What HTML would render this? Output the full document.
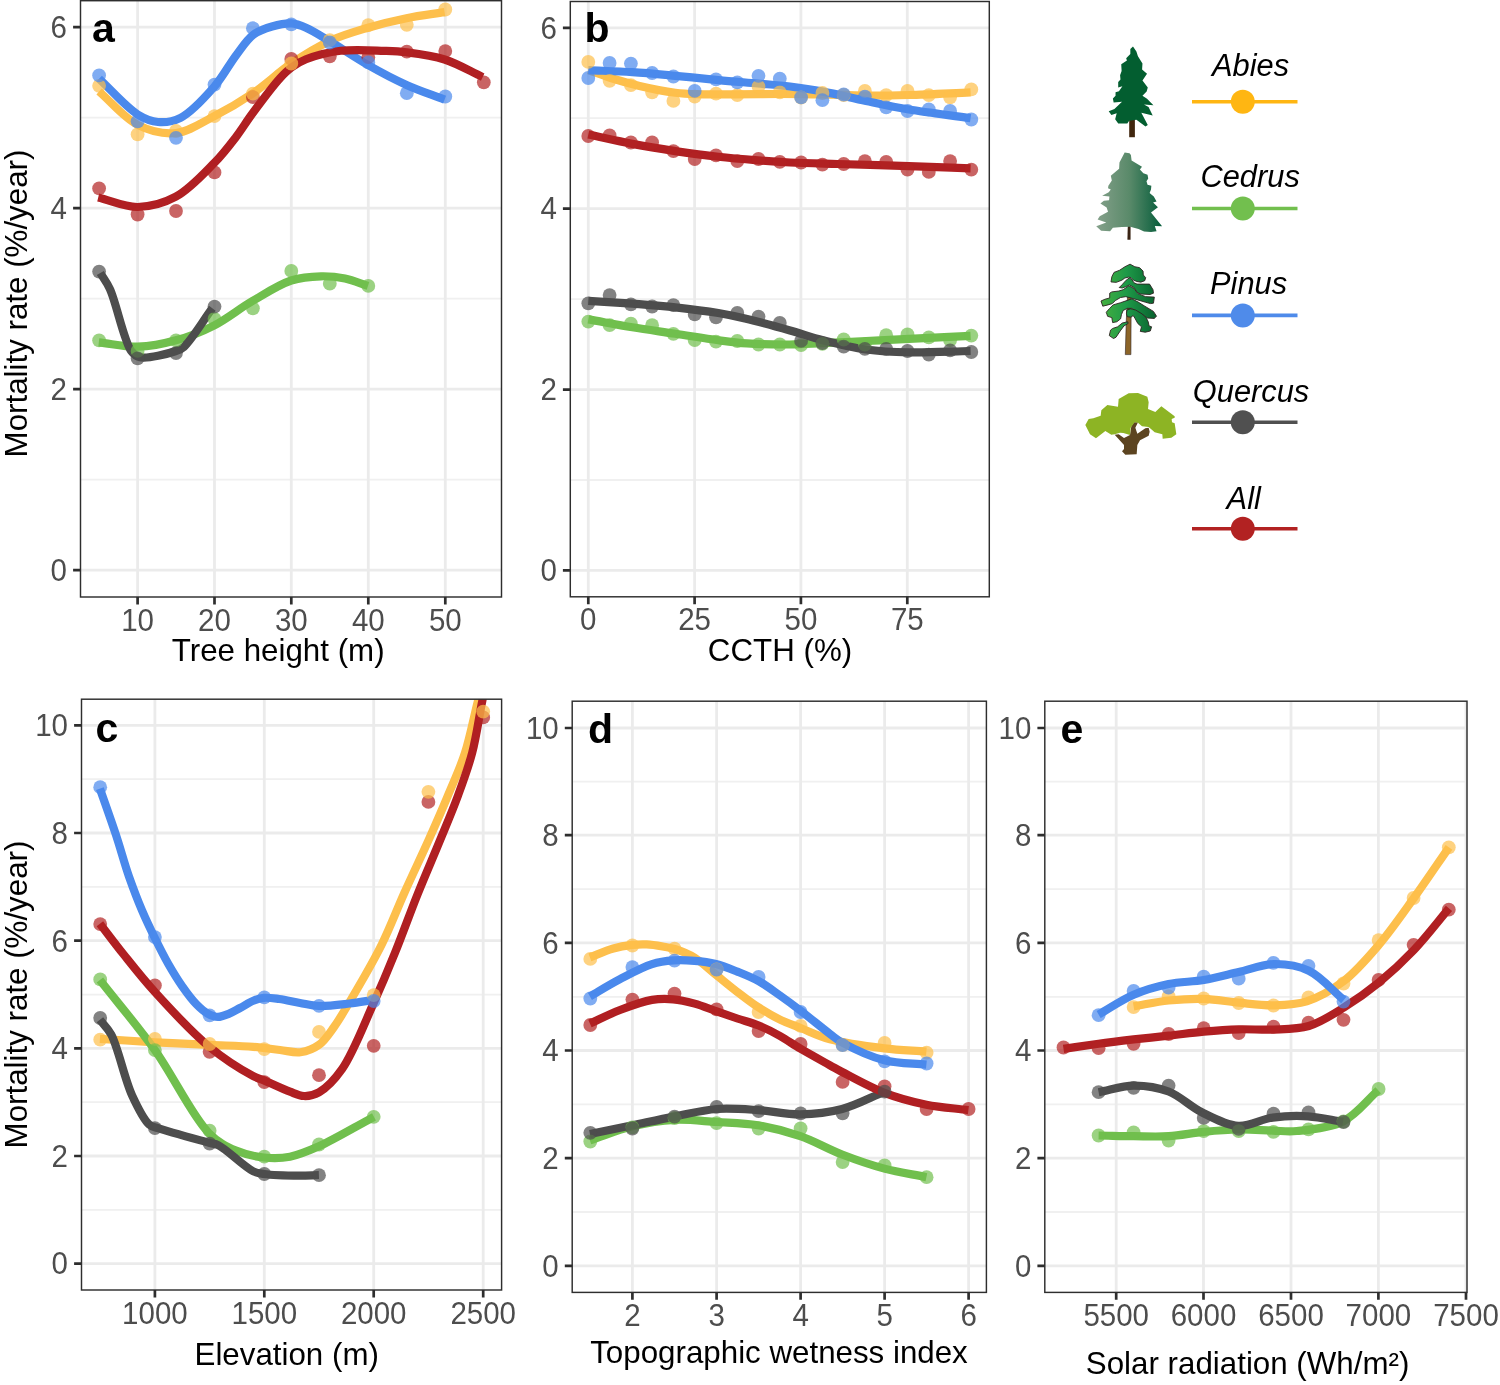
<!DOCTYPE html>
<html><head><meta charset="utf-8"><title>Mortality rate plots</title>
<style>
html,body{margin:0;padding:0;background:#fff;width:1500px;height:1385px;overflow:hidden}
svg{display:block}
text{font-family:"Liberation Sans", sans-serif}
svg{will-change:transform}
.tk{font-size:29.5px;fill:#4D4D4D}
.ti{font-size:31.3px;fill:#000}
.lb{font-size:41.0px;font-weight:bold;fill:#000}
.lg{font-size:30.8px;font-style:italic;fill:#000}
</style></head><body>
<svg width="1500" height="1385" viewBox="0 0 1500 1385">
<rect x="0" y="0" width="1500" height="1385" fill="#FFFFFF"/>
<clipPath id="clip_a"><rect x="80.5" y="0.7" width="421.0" height="596.3"/></clipPath>
<path d="M80.5,479.7H501.5M80.5,298.7H501.5M80.5,117.7H501.5" stroke="#F0F0F0" stroke-width="1.8" fill="none"/>
<path d="M80.5,570.2H501.5M80.5,389.2H501.5M80.5,208.2H501.5M80.5,27.2H501.5M137.6,0.7V597.0M214.5,0.7V597.0M291.3,0.7V597.0M368.3,0.7V597.0M445.3,0.7V597.0" stroke="#EBEBEB" stroke-width="2.8" fill="none"/>
<g clip-path="url(#clip_a)">
<path d="M99.1,91.5 C111.9,102.6 123.9,118.0 137.6,124.8 C149.6,130.8 163.2,134.3 175.8,133.0 C188.8,131.7 201.7,122.6 214.3,116.1 C227.2,109.5 239.9,102.1 252.4,93.6 C265.6,84.7 278.1,72.5 291.4,63.5 C304.1,54.9 317.1,46.8 330.3,40.7 C342.7,35.0 355.3,31.5 368.0,27.7 C380.7,24.0 393.6,20.8 406.5,18.2 C419.2,15.6 431.9,14.1 444.6,12.1" stroke="#FDBF4C" stroke-width="8.2" fill="none" stroke-linejoin="round"/>
<path d="M98.8,342.4 C111.7,343.8 124.7,347.1 137.6,346.7 C150.5,346.3 163.4,343.8 176.0,340.3 C189.0,336.7 201.9,331.7 214.4,325.3 C227.5,318.6 239.8,308.3 252.8,300.8 C265.5,293.4 278.9,284.5 291.2,280.5 C301.5,277.2 311.6,276.5 321.0,276.3 C329.4,276.1 337.2,276.9 345.0,278.5 C352.8,280.1 360.3,283.4 368.0,285.9" stroke="#70BF4D" stroke-width="8.2" fill="none" stroke-linejoin="round"/>
<path d="M99.1,78.8 C111.9,90.7 126.2,107.4 137.6,114.4 C145.0,118.9 150.9,121.4 158.0,122.0 C165.2,122.6 172.8,121.7 180.5,117.8 C191.4,112.3 204.8,97.5 214.3,86.6 C223.0,76.7 229.0,64.6 236.0,55.4 C241.9,47.6 246.8,39.6 253.3,34.7 C259.0,30.4 265.6,28.4 272.0,26.5 C278.3,24.7 285.4,23.0 291.4,23.4 C296.7,23.7 300.7,25.4 306.0,27.7 C313.2,30.8 321.4,36.3 330.3,41.6 C341.5,48.3 355.2,57.7 368.0,65.0 C380.6,72.2 393.5,79.1 406.5,84.9 C419.1,90.6 431.9,94.7 444.6,99.6" stroke="#4A89EC" stroke-width="8.2" fill="none" stroke-linejoin="round"/>
<path d="M100.3,273.0 C103.5,278.3 106.5,281.7 109.9,289.0 C116.3,302.7 124.0,341.4 131.2,351.0 C134.1,354.9 135.8,356.3 140.0,357.3 C147.7,359.1 168.4,353.6 176.0,351.0 C179.8,349.7 180.9,349.5 184.0,346.8 C191.1,340.7 202.9,321.1 212.3,308.3" stroke="#4D4D4D" stroke-width="8.2" fill="none" stroke-linejoin="round"/>
<path d="M98.2,197.5 C111.4,200.7 124.7,207.2 137.7,207.0 C150.5,206.8 163.8,203.2 175.8,196.7 C189.5,189.4 203.6,173.8 214.3,162.9 C223.0,154.0 229.4,145.5 236.0,136.9 C242.0,129.0 246.1,122.0 252.4,113.5 C260.3,102.8 272.5,86.4 280.0,78.2 C284.4,73.4 287.2,70.6 291.4,67.5 C295.8,64.3 299.9,61.7 306.0,59.3 C314.9,55.8 328.3,52.3 340.6,50.8 C354.2,49.2 371.9,50.4 384.0,50.8 C392.7,51.1 398.1,51.2 406.5,52.3 C417.6,53.7 432.1,55.5 444.6,59.5 C457.6,63.6 470.0,71.2 482.7,77.1" stroke="#B01F22" stroke-width="8.2" fill="none" stroke-linejoin="round"/>
<g fill="#B22222" fill-opacity="0.70"><circle cx="99.1" cy="188.4" r="6.9"/><circle cx="137.6" cy="214.5" r="6.9"/><circle cx="176.0" cy="211.0" r="6.9"/><circle cx="214.5" cy="172.4" r="6.9"/><circle cx="252.9" cy="97.0" r="6.9"/><circle cx="291.3" cy="58.9" r="6.9"/><circle cx="329.8" cy="56.3" r="6.9"/><circle cx="368.3" cy="57.2" r="6.9"/><circle cx="406.8" cy="51.6" r="6.9"/><circle cx="445.3" cy="51.1" r="6.9"/><circle cx="483.8" cy="82.3" r="6.9"/></g>
<g fill="#FDBF4A" fill-opacity="0.70"><circle cx="99.1" cy="85.8" r="6.9"/><circle cx="137.6" cy="134.3" r="6.9"/><circle cx="176.0" cy="131.0" r="6.9"/><circle cx="214.5" cy="116.1" r="6.9"/><circle cx="252.9" cy="93.6" r="6.9"/><circle cx="291.3" cy="63.5" r="6.9"/><circle cx="329.8" cy="40.2" r="6.9"/><circle cx="368.3" cy="25.1" r="6.9"/><circle cx="406.8" cy="24.8" r="6.9"/><circle cx="445.3" cy="9.5" r="6.9"/></g>
<g fill="#70BF4D" fill-opacity="0.70"><circle cx="99.1" cy="340.3" r="6.9"/><circle cx="137.6" cy="350.9" r="6.9"/><circle cx="176.0" cy="340.3" r="6.9"/><circle cx="214.5" cy="319.0" r="6.9"/><circle cx="252.9" cy="308.3" r="6.9"/><circle cx="291.3" cy="270.9" r="6.9"/><circle cx="329.8" cy="283.7" r="6.9"/><circle cx="368.3" cy="285.9" r="6.9"/></g>
<g fill="#4A89EC" fill-opacity="0.70"><circle cx="99.1" cy="75.4" r="6.9"/><circle cx="137.6" cy="121.3" r="6.9"/><circle cx="176.0" cy="137.8" r="6.9"/><circle cx="214.5" cy="84.6" r="6.9"/><circle cx="252.9" cy="28.2" r="6.9"/><circle cx="291.3" cy="24.3" r="6.9"/><circle cx="329.8" cy="42.5" r="6.9"/><circle cx="368.3" cy="62.4" r="6.9"/><circle cx="406.8" cy="93.2" r="6.9"/><circle cx="445.3" cy="96.5" r="6.9"/></g>
<g fill="#4D4D4D" fill-opacity="0.70"><circle cx="99.1" cy="271.6" r="6.9"/><circle cx="137.6" cy="358.4" r="6.9"/><circle cx="176.0" cy="353.1" r="6.9"/><circle cx="214.5" cy="306.6" r="6.9"/></g>
</g>
<rect x="80.5" y="0.7" width="421.0" height="596.3" fill="none" stroke="#2E2E2E" stroke-width="1.45"/>
<path d="M137.6,597.0V604.4M214.5,597.0V604.4M291.3,597.0V604.4M368.3,597.0V604.4M445.3,597.0V604.4M73.1,570.2H80.5M73.1,389.2H80.5M73.1,208.2H80.5M73.1,27.2H80.5" stroke="#2E2E2E" stroke-width="2.7" fill="none"/>
<text transform="translate(137.6,630.6) scale(1,1.06)" text-anchor="middle" class="tk">10</text>
<text transform="translate(214.5,630.6) scale(1,1.06)" text-anchor="middle" class="tk">20</text>
<text transform="translate(291.3,630.6) scale(1,1.06)" text-anchor="middle" class="tk">30</text>
<text transform="translate(368.3,630.6) scale(1,1.06)" text-anchor="middle" class="tk">40</text>
<text transform="translate(445.3,630.6) scale(1,1.06)" text-anchor="middle" class="tk">50</text>
<text transform="translate(67.0,581.0) scale(1,1.06)" text-anchor="end" class="tk">0</text>
<text transform="translate(67.0,400.0) scale(1,1.06)" text-anchor="end" class="tk">2</text>
<text transform="translate(67.0,219.0) scale(1,1.06)" text-anchor="end" class="tk">4</text>
<text transform="translate(67.0,38.0) scale(1,1.06)" text-anchor="end" class="tk">6</text>
<text x="278.2" y="661.0" text-anchor="middle" class="ti">Tree height (m)</text>
<text x="92.1" y="41.6" class="lb">a</text>
<clipPath id="clip_b"><rect x="570.3" y="1.5" width="419.0" height="595.3"/></clipPath>
<path d="M570.3,480.0H989.3M570.3,299.2H989.3M570.3,118.2H989.3" stroke="#F0F0F0" stroke-width="1.8" fill="none"/>
<path d="M570.3,570.4H989.3M570.3,389.6H989.3M570.3,208.6H989.3M570.3,27.8H989.3M588.3,1.5V596.8M694.6,1.5V596.8M800.9,1.5V596.8M907.3,1.5V596.8" stroke="#EBEBEB" stroke-width="2.8" fill="none"/>
<g clip-path="url(#clip_b)">
<path d="M588.3,70.1 C595.8,72.7 602.8,75.5 610.8,78.0 C619.7,80.8 629.4,83.5 639.5,85.9 C650.7,88.5 664.8,91.3 675.3,92.7 C683.3,93.7 688.7,93.9 696.8,94.2 C707.2,94.6 719.9,94.3 732.7,94.3 C747.4,94.3 764.6,94.0 780.0,94.0 C794.7,94.0 808.7,94.3 823.0,94.5 C837.3,94.8 851.7,95.4 866.0,95.5 C880.3,95.6 893.4,95.4 909.0,95.0 C927.7,94.5 950.1,93.2 970.6,92.3" stroke="#FDBF4C" stroke-width="8.2" fill="none" stroke-linejoin="round"/>
<path d="M588.3,319.4 C603.0,322.0 617.7,324.9 632.3,327.3 C646.7,329.7 661.0,331.6 675.3,333.8 C689.6,335.9 705.4,338.5 718.3,340.2 C728.8,341.6 736.5,342.7 747.0,343.4 C759.9,344.3 776.6,344.6 790.0,344.5 C801.7,344.4 811.3,343.6 823.0,343.1 C836.4,342.5 851.7,341.7 866.0,341.0 C880.3,340.3 893.4,339.6 909.0,338.8 C927.7,337.9 950.1,336.9 970.6,335.9" stroke="#70BF4D" stroke-width="8.2" fill="none" stroke-linejoin="round"/>
<path d="M588.3,70.1 C603.0,70.8 617.7,71.2 632.3,72.2 C646.7,73.1 661.0,74.5 675.3,75.8 C689.6,77.1 704.2,78.8 718.3,80.1 C731.8,81.4 745.5,82.4 758.0,83.5 C769.2,84.5 779.3,85.2 790.0,86.5 C800.9,87.9 811.3,89.4 823.0,91.6 C836.4,94.1 851.7,98.0 866.0,101.0 C880.3,104.0 893.3,106.9 909.0,109.5 C927.7,112.6 950.1,115.2 970.6,118.1" stroke="#4A89EC" stroke-width="8.2" fill="none" stroke-linejoin="round"/>
<path d="M588.3,300.8 C603.0,301.8 617.7,302.6 632.3,303.7 C646.7,304.8 661.0,305.8 675.3,307.3 C689.7,308.9 705.7,310.9 718.3,313.0 C728.3,314.7 735.0,316.1 745.0,318.5 C758.1,321.6 776.2,326.6 790.0,330.5 C801.9,333.8 811.2,337.2 823.0,340.2 C836.3,343.6 851.6,347.5 866.0,349.5 C880.3,351.5 893.4,352.1 909.0,352.4 C927.7,352.8 950.1,351.5 970.6,351.0" stroke="#4D4D4D" stroke-width="8.2" fill="none" stroke-linejoin="round"/>
<path d="M588.3,134.6 C603.0,137.7 617.7,141.1 632.3,143.9 C646.7,146.6 660.9,148.9 675.3,151.1 C689.6,153.2 704.2,155.2 718.3,156.8 C731.8,158.3 745.5,159.4 758.0,160.4 C769.2,161.3 778.3,161.9 790.0,162.5 C804.2,163.2 819.9,163.5 837.3,164.0 C858.7,164.7 886.0,165.4 909.0,166.1 C930.3,166.8 950.1,167.6 970.6,168.3" stroke="#B01F22" stroke-width="8.2" fill="none" stroke-linejoin="round"/>
<g fill="#B22222" fill-opacity="0.70"><circle cx="588.3" cy="136.0" r="6.9"/><circle cx="609.6" cy="135.3" r="6.9"/><circle cx="630.9" cy="142.5" r="6.9"/><circle cx="652.1" cy="142.5" r="6.9"/><circle cx="673.4" cy="151.1" r="6.9"/><circle cx="694.7" cy="159.0" r="6.9"/><circle cx="716.0" cy="155.4" r="6.9"/><circle cx="737.3" cy="161.1" r="6.9"/><circle cx="758.5" cy="159.0" r="6.9"/><circle cx="779.8" cy="161.8" r="6.9"/><circle cx="801.1" cy="162.5" r="6.9"/><circle cx="822.4" cy="164.7" r="6.9"/><circle cx="843.7" cy="164.0" r="6.9"/><circle cx="864.9" cy="161.1" r="6.9"/><circle cx="886.2" cy="161.8" r="6.9"/><circle cx="907.5" cy="169.7" r="6.9"/><circle cx="928.8" cy="171.9" r="6.9"/><circle cx="950.1" cy="161.1" r="6.9"/><circle cx="971.3" cy="169.7" r="6.9"/></g>
<g fill="#FDBF4A" fill-opacity="0.70"><circle cx="588.3" cy="61.9" r="6.9"/><circle cx="609.6" cy="80.8" r="6.9"/><circle cx="630.9" cy="85.1" r="6.9"/><circle cx="652.1" cy="92.3" r="6.9"/><circle cx="673.4" cy="100.9" r="6.9"/><circle cx="694.7" cy="96.6" r="6.9"/><circle cx="716.0" cy="93.7" r="6.9"/><circle cx="737.3" cy="95.2" r="6.9"/><circle cx="758.5" cy="86.6" r="6.9"/><circle cx="779.8" cy="92.3" r="6.9"/><circle cx="801.1" cy="97.5" r="6.9"/><circle cx="822.4" cy="93.0" r="6.9"/><circle cx="843.7" cy="95.0" r="6.9"/><circle cx="864.9" cy="90.9" r="6.9"/><circle cx="886.2" cy="95.2" r="6.9"/><circle cx="907.5" cy="90.9" r="6.9"/><circle cx="928.8" cy="95.2" r="6.9"/><circle cx="950.1" cy="97.3" r="6.9"/><circle cx="971.3" cy="89.4" r="6.9"/></g>
<g fill="#70BF4D" fill-opacity="0.70"><circle cx="588.3" cy="321.6" r="6.9"/><circle cx="609.6" cy="325.2" r="6.9"/><circle cx="630.9" cy="323.7" r="6.9"/><circle cx="652.1" cy="325.2" r="6.9"/><circle cx="673.4" cy="333.8" r="6.9"/><circle cx="694.7" cy="340.2" r="6.9"/><circle cx="716.0" cy="341.7" r="6.9"/><circle cx="737.3" cy="341.0" r="6.9"/><circle cx="758.5" cy="344.5" r="6.9"/><circle cx="779.8" cy="344.5" r="6.9"/><circle cx="801.1" cy="345.2" r="6.9"/><circle cx="822.4" cy="343.8" r="6.9"/><circle cx="843.7" cy="339.5" r="6.9"/><circle cx="864.9" cy="344.5" r="6.9"/><circle cx="886.2" cy="335.2" r="6.9"/><circle cx="907.5" cy="334.5" r="6.9"/><circle cx="928.8" cy="337.4" r="6.9"/><circle cx="950.1" cy="340.2" r="6.9"/><circle cx="971.3" cy="335.6" r="6.9"/></g>
<g fill="#4A89EC" fill-opacity="0.70"><circle cx="588.3" cy="78.0" r="6.9"/><circle cx="609.6" cy="62.9" r="6.9"/><circle cx="630.9" cy="63.6" r="6.9"/><circle cx="652.1" cy="73.0" r="6.9"/><circle cx="673.4" cy="76.5" r="6.9"/><circle cx="694.7" cy="90.9" r="6.9"/><circle cx="716.0" cy="79.4" r="6.9"/><circle cx="737.3" cy="82.3" r="6.9"/><circle cx="758.5" cy="75.8" r="6.9"/><circle cx="779.8" cy="78.7" r="6.9"/><circle cx="801.1" cy="97.3" r="6.9"/><circle cx="822.4" cy="100.2" r="6.9"/><circle cx="843.7" cy="94.5" r="6.9"/><circle cx="864.9" cy="96.6" r="6.9"/><circle cx="886.2" cy="107.4" r="6.9"/><circle cx="907.5" cy="111.0" r="6.9"/><circle cx="928.8" cy="109.5" r="6.9"/><circle cx="950.1" cy="111.0" r="6.9"/><circle cx="971.3" cy="119.5" r="6.9"/></g>
<g fill="#4D4D4D" fill-opacity="0.70"><circle cx="588.3" cy="303.3" r="6.9"/><circle cx="609.6" cy="295.1" r="6.9"/><circle cx="630.9" cy="304.4" r="6.9"/><circle cx="652.1" cy="306.5" r="6.9"/><circle cx="673.4" cy="305.1" r="6.9"/><circle cx="694.7" cy="314.4" r="6.9"/><circle cx="716.0" cy="317.3" r="6.9"/><circle cx="737.3" cy="313.0" r="6.9"/><circle cx="758.5" cy="316.6" r="6.9"/><circle cx="779.8" cy="323.0" r="6.9"/><circle cx="801.1" cy="340.9" r="6.9"/><circle cx="822.4" cy="343.1" r="6.9"/><circle cx="843.7" cy="346.7" r="6.9"/><circle cx="864.9" cy="348.8" r="6.9"/><circle cx="886.2" cy="348.8" r="6.9"/><circle cx="907.5" cy="351.0" r="6.9"/><circle cx="928.8" cy="354.6" r="6.9"/><circle cx="950.1" cy="350.3" r="6.9"/><circle cx="971.3" cy="352.0" r="6.9"/></g>
</g>
<rect x="570.3" y="1.5" width="419.0" height="595.3" fill="none" stroke="#2E2E2E" stroke-width="1.45"/>
<path d="M588.3,596.8V604.2M694.6,596.8V604.2M800.9,596.8V604.2M907.3,596.8V604.2M562.9,570.4H570.3M562.9,389.6H570.3M562.9,208.6H570.3M562.9,27.8H570.3" stroke="#2E2E2E" stroke-width="2.7" fill="none"/>
<text transform="translate(588.3,630.4) scale(1,1.06)" text-anchor="middle" class="tk">0</text>
<text transform="translate(694.6,630.4) scale(1,1.06)" text-anchor="middle" class="tk">25</text>
<text transform="translate(800.9,630.4) scale(1,1.06)" text-anchor="middle" class="tk">50</text>
<text transform="translate(907.3,630.4) scale(1,1.06)" text-anchor="middle" class="tk">75</text>
<text transform="translate(556.8,581.2) scale(1,1.06)" text-anchor="end" class="tk">0</text>
<text transform="translate(556.8,400.4) scale(1,1.06)" text-anchor="end" class="tk">2</text>
<text transform="translate(556.8,219.4) scale(1,1.06)" text-anchor="end" class="tk">4</text>
<text transform="translate(556.8,38.6) scale(1,1.06)" text-anchor="end" class="tk">6</text>
<text x="780.0" y="661.0" text-anchor="middle" class="ti">CCTH (%)</text>
<text x="584.5" y="41.8" class="lb">b</text>
<clipPath id="clip_c"><rect x="81.5" y="699.2" width="420.1" height="590.8"/></clipPath>
<path d="M81.5,1209.8H501.6M81.5,1102.2H501.6M81.5,994.6H501.6M81.5,886.8H501.6M81.5,779.2H501.6" stroke="#F0F0F0" stroke-width="1.8" fill="none"/>
<path d="M81.5,1263.6H501.6M81.5,1156.0H501.6M81.5,1048.4H501.6M81.5,940.7H501.6M81.5,833.0H501.6M81.5,725.4H501.6M154.9,699.2V1290.0M264.3,699.2V1290.0M373.7,699.2V1290.0M483.2,699.2V1290.0" stroke="#EBEBEB" stroke-width="2.8" fill="none"/>
<g clip-path="url(#clip_c)">
<path d="M99.9,1038.8 C118.2,1040.0 136.6,1041.3 154.9,1042.3 C173.0,1043.3 192.0,1044.1 209.1,1044.9 C224.6,1045.6 240.4,1045.8 253.3,1046.8 C263.3,1047.6 271.7,1049.1 280.0,1050.0 C287.3,1050.8 293.9,1053.1 300.4,1052.2 C306.8,1051.3 313.5,1048.8 318.9,1044.9 C324.8,1040.7 328.8,1034.2 334.0,1027.0 C341.0,1017.3 348.5,1003.9 356.0,991.0 C364.5,976.5 374.0,960.2 382.0,944.0 C390.1,927.5 396.6,910.2 404.3,893.0 C412.2,875.3 421.3,856.4 428.9,839.4 C435.7,824.2 441.7,810.6 447.7,796.1 C453.7,781.7 460.1,768.1 465.0,752.8 C470.3,736.4 474.4,714.2 478.0,700.8 C480.3,692.3 482.0,686.9 484.0,680.0" stroke="#FDBF4C" stroke-width="8.2" fill="none" stroke-linejoin="round"/>
<path d="M99.9,980.0 C118.2,1003.4 137.2,1025.3 154.9,1050.1 C173.6,1076.3 192.5,1116.8 209.1,1133.3 C218.5,1142.7 226.6,1146.5 236.0,1150.6 C244.9,1154.4 254.8,1156.5 264.0,1157.5 C272.8,1158.4 281.2,1158.4 290.0,1156.7 C299.5,1154.9 307.9,1151.2 318.9,1146.3 C334.5,1139.3 355.6,1126.6 374.0,1116.8" stroke="#70BF4D" stroke-width="8.2" fill="none" stroke-linejoin="round"/>
<path d="M99.9,788.6 C105.3,804.1 111.0,819.9 116.0,835.0 C120.7,849.2 124.4,863.5 129.0,876.6 C133.2,888.5 137.5,899.8 142.0,910.4 C146.1,920.0 150.2,928.6 154.6,937.5 C159.0,946.4 163.5,955.5 168.2,963.8 C172.7,971.7 177.4,979.4 182.3,986.4 C186.8,992.8 191.6,999.4 196.3,1004.2 C200.1,1008.1 203.7,1011.5 207.6,1013.6 C210.9,1015.4 214.4,1016.9 217.9,1016.9 C221.6,1016.9 225.5,1015.1 229.2,1013.6 C232.9,1012.1 236.2,1010.0 240.0,1008.0 C244.2,1005.8 249.0,1002.4 253.3,1000.7 C257.0,999.2 260.1,998.2 264.0,997.8 C268.6,997.4 273.8,998.3 279.3,999.0 C285.7,999.9 293.2,1001.8 300.0,1003.0 C306.4,1004.1 311.8,1005.7 318.9,1006.0 C327.9,1006.3 339.9,1004.6 349.5,1003.5 C358.1,1002.5 365.8,1001.1 374.0,999.9" stroke="#4A89EC" stroke-width="8.2" fill="none" stroke-linejoin="round"/>
<path d="M99.9,1019.8 C103.7,1024.7 107.4,1027.5 111.2,1034.5 C118.2,1047.5 124.5,1078.9 132.0,1095.2 C137.5,1107.1 143.7,1119.8 149.3,1124.6 C152.2,1127.1 153.8,1126.7 158.0,1128.1 C167.9,1131.5 198.8,1139.9 209.1,1142.8 C213.5,1144.0 214.7,1143.5 218.6,1145.4 C226.8,1149.4 244.7,1167.4 253.3,1171.4 C257.6,1173.4 259.3,1173.3 264.0,1174.0 C272.4,1175.2 289.9,1175.6 300.0,1175.7 C307.3,1175.7 312.6,1175.2 318.9,1175.0" stroke="#4D4D4D" stroke-width="8.2" fill="none" stroke-linejoin="round"/>
<path d="M99.9,923.7 C107.7,933.8 114.8,943.4 123.3,954.0 C132.9,966.0 142.6,978.5 154.9,992.0 C170.2,1008.9 191.2,1031.9 209.1,1046.6 C224.0,1058.8 243.4,1070.9 253.3,1076.1 C257.9,1078.5 259.7,1078.6 264.0,1080.4 C270.8,1083.2 282.6,1089.0 290.0,1091.7 C295.3,1093.7 299.2,1095.8 303.9,1096.0 C308.8,1096.2 313.8,1095.3 318.9,1092.4 C326.4,1088.2 334.6,1079.7 342.0,1069.2 C352.9,1053.7 363.7,1025.2 372.9,1004.8 C381.1,986.6 387.8,970.7 395.0,952.8 C402.6,934.1 409.7,914.0 417.3,895.0 C424.8,876.2 433.3,856.8 440.4,839.4 C446.7,824.1 452.5,810.6 457.8,796.1 C463.1,781.7 468.2,768.0 472.2,752.8 C476.5,736.4 479.5,714.2 482.3,700.8 C484.1,692.3 485.4,686.9 487.0,680.0" stroke="#B01F22" stroke-width="8.2" fill="none" stroke-linejoin="round"/>
<g fill="#B22222" fill-opacity="0.70"><circle cx="100.2" cy="924.1" r="6.9"/><circle cx="154.9" cy="985.5" r="6.9"/><circle cx="209.6" cy="1051.8" r="6.9"/><circle cx="264.3" cy="1082.2" r="6.9"/><circle cx="319.0" cy="1075.2" r="6.9"/><circle cx="373.7" cy="1045.8" r="6.9"/><circle cx="428.4" cy="801.9" r="6.9"/><circle cx="483.2" cy="717.4" r="6.9"/></g>
<g fill="#FDBF4A" fill-opacity="0.70"><circle cx="100.2" cy="1039.7" r="6.9"/><circle cx="154.9" cy="1038.8" r="6.9"/><circle cx="209.6" cy="1044.0" r="6.9"/><circle cx="264.3" cy="1049.2" r="6.9"/><circle cx="319.0" cy="1031.9" r="6.9"/><circle cx="373.7" cy="995.1" r="6.9"/><circle cx="428.4" cy="791.8" r="6.9"/><circle cx="483.2" cy="711.6" r="6.9"/></g>
<g fill="#70BF4D" fill-opacity="0.70"><circle cx="100.2" cy="979.4" r="6.9"/><circle cx="154.9" cy="1050.1" r="6.9"/><circle cx="209.6" cy="1130.7" r="6.9"/><circle cx="264.3" cy="1156.7" r="6.9"/><circle cx="319.0" cy="1144.5" r="6.9"/><circle cx="373.7" cy="1116.8" r="6.9"/></g>
<g fill="#4A89EC" fill-opacity="0.70"><circle cx="100.2" cy="787.2" r="6.9"/><circle cx="154.9" cy="937.1" r="6.9"/><circle cx="209.6" cy="1015.4" r="6.9"/><circle cx="264.3" cy="997.3" r="6.9"/><circle cx="319.0" cy="1005.9" r="6.9"/><circle cx="373.7" cy="1001.0" r="6.9"/></g>
<g fill="#4D4D4D" fill-opacity="0.70"><circle cx="100.2" cy="1018.0" r="6.9"/><circle cx="154.9" cy="1128.1" r="6.9"/><circle cx="209.6" cy="1143.7" r="6.9"/><circle cx="264.3" cy="1174.0" r="6.9"/><circle cx="319.0" cy="1175.2" r="6.9"/></g>
</g>
<rect x="81.5" y="699.2" width="420.1" height="590.8" fill="none" stroke="#2E2E2E" stroke-width="1.45"/>
<path d="M154.9,1290.0V1297.4M264.3,1290.0V1297.4M373.7,1290.0V1297.4M483.2,1290.0V1297.4M74.1,1263.6H81.5M74.1,1156.0H81.5M74.1,1048.4H81.5M74.1,940.7H81.5M74.1,833.0H81.5M74.1,725.4H81.5" stroke="#2E2E2E" stroke-width="2.7" fill="none"/>
<text transform="translate(154.9,1323.6) scale(1,1.06)" text-anchor="middle" class="tk">1000</text>
<text transform="translate(264.3,1323.6) scale(1,1.06)" text-anchor="middle" class="tk">1500</text>
<text transform="translate(373.7,1323.6) scale(1,1.06)" text-anchor="middle" class="tk">2000</text>
<text transform="translate(483.2,1323.6) scale(1,1.06)" text-anchor="middle" class="tk">2500</text>
<text transform="translate(68.0,1274.4) scale(1,1.06)" text-anchor="end" class="tk">0</text>
<text transform="translate(68.0,1166.8) scale(1,1.06)" text-anchor="end" class="tk">2</text>
<text transform="translate(68.0,1059.2) scale(1,1.06)" text-anchor="end" class="tk">4</text>
<text transform="translate(68.0,951.5) scale(1,1.06)" text-anchor="end" class="tk">6</text>
<text transform="translate(68.0,843.8) scale(1,1.06)" text-anchor="end" class="tk">8</text>
<text transform="translate(68.0,736.2) scale(1,1.06)" text-anchor="end" class="tk">10</text>
<text x="286.7" y="1364.5" text-anchor="middle" class="ti">Elevation (m)</text>
<text x="95.4" y="742.2" class="lb">c</text>
<clipPath id="clip_d"><rect x="572.2" y="701.2" width="414.2" height="591.2"/></clipPath>
<path d="M572.2,1212.0H986.4M572.2,1104.3H986.4M572.2,996.8H986.4M572.2,889.1H986.4M572.2,781.6H986.4" stroke="#F0F0F0" stroke-width="1.8" fill="none"/>
<path d="M572.2,1265.8H986.4M572.2,1158.2H986.4M572.2,1050.5H986.4M572.2,942.9H986.4M572.2,835.2H986.4M572.2,728.0H986.4M632.4,701.2V1292.4M716.6,701.2V1292.4M800.6,701.2V1292.4M884.6,701.2V1292.4M968.6,701.2V1292.4" stroke="#EBEBEB" stroke-width="2.8" fill="none"/>
<g clip-path="url(#clip_d)">
<path d="M589.9,957.4 C597.7,954.4 605.8,950.6 613.3,948.5 C619.9,946.6 626.4,945.6 632.3,944.9 C637.4,944.3 641.8,944.2 646.7,944.4 C651.9,944.6 657.7,945.6 662.7,946.5 C667.2,947.3 670.9,947.7 675.5,949.2 C681.3,951.1 688.4,953.9 694.7,957.7 C701.9,962.1 708.9,969.1 716.0,974.8 C723.1,980.5 730.2,986.5 737.3,991.9 C744.1,997.1 750.5,1002.2 757.6,1006.8 C764.8,1011.4 772.6,1016.0 780.0,1019.6 C786.9,1023.0 793.1,1025.0 800.6,1028.0 C809.5,1031.5 818.5,1036.2 830.0,1039.3 C845.2,1043.4 867.4,1046.3 884.4,1048.4 C899.3,1050.2 912.4,1050.5 926.4,1051.6" stroke="#FDBF4C" stroke-width="8.2" fill="none" stroke-linejoin="round"/>
<path d="M589.9,1140.4 C604.1,1135.7 618.1,1129.7 632.4,1126.3 C646.3,1122.9 660.3,1120.5 674.4,1119.8 C688.4,1119.1 702.6,1121.1 716.6,1122.0 C730.5,1122.9 744.2,1123.0 758.0,1125.3 C772.1,1127.6 786.4,1131.3 800.3,1136.1 C814.5,1141.0 828.0,1149.1 842.1,1154.5 C856.0,1159.9 870.2,1164.8 884.4,1168.6 C898.3,1172.3 912.4,1174.3 926.4,1177.2" stroke="#70BF4D" stroke-width="8.2" fill="none" stroke-linejoin="round"/>
<path d="M589.9,996.4 C599.9,990.6 609.7,984.5 620.0,979.1 C630.4,973.7 642.2,967.2 652.0,964.1 C659.6,961.7 666.2,960.9 673.3,960.4 C680.4,959.9 687.6,960.3 694.7,960.9 C701.8,961.5 709.0,962.4 716.0,964.1 C723.2,965.9 730.2,968.8 737.3,971.6 C744.5,974.5 751.7,977.3 758.7,981.2 C766.0,985.2 773.0,990.6 780.0,995.5 C787.0,1000.4 793.2,1005.0 800.6,1010.7 C809.6,1017.6 822.3,1028.2 830.0,1034.0 C834.9,1037.6 836.6,1039.5 842.1,1042.5 C851.7,1047.8 870.0,1056.6 884.4,1060.3 C898.2,1063.8 912.4,1063.2 926.4,1064.6" stroke="#4A89EC" stroke-width="8.2" fill="none" stroke-linejoin="round"/>
<path d="M589.9,1133.9 C604.1,1131.0 618.3,1128.2 632.4,1125.3 C646.4,1122.4 660.4,1119.3 674.4,1116.6 C688.4,1113.9 702.5,1110.1 716.6,1109.0 C730.4,1108.0 744.1,1109.2 758.0,1110.1 C772.0,1111.0 786.3,1114.6 800.3,1114.4 C814.3,1114.2 828.4,1112.6 842.1,1109.0 C856.4,1105.2 870.3,1097.5 884.4,1091.7" stroke="#4D4D4D" stroke-width="8.2" fill="none" stroke-linejoin="round"/>
<path d="M589.9,1023.5 C599.9,1019.0 609.7,1013.9 620.0,1010.0 C630.4,1006.0 642.3,1001.5 652.0,999.9 C659.7,998.6 666.2,998.7 673.3,999.3 C680.5,999.9 687.6,1001.7 694.7,1003.6 C701.9,1005.6 708.9,1008.6 716.0,1011.1 C723.1,1013.6 730.2,1016.1 737.3,1018.5 C744.4,1020.9 751.7,1022.6 758.7,1025.5 C765.9,1028.4 773.1,1032.1 780.0,1036.0 C787.0,1039.9 793.1,1044.4 800.6,1048.8 C809.5,1054.0 822.3,1061.0 830.0,1065.3 C834.9,1068.0 836.8,1069.2 842.1,1072.0 C851.9,1077.1 870.1,1087.3 884.4,1092.8 C898.2,1098.1 912.3,1101.8 926.4,1104.7 C940.3,1107.5 954.4,1108.3 968.4,1110.1" stroke="#B01F22" stroke-width="8.2" fill="none" stroke-linejoin="round"/>
<g fill="#B22222" fill-opacity="0.70"><circle cx="590.3" cy="1025.0" r="6.9"/><circle cx="632.4" cy="999.6" r="6.9"/><circle cx="674.5" cy="993.6" r="6.9"/><circle cx="716.6" cy="1009.4" r="6.9"/><circle cx="758.6" cy="1031.0" r="6.9"/><circle cx="800.6" cy="1044.0" r="6.9"/><circle cx="842.6" cy="1081.9" r="6.9"/><circle cx="884.6" cy="1086.3" r="6.9"/><circle cx="926.6" cy="1109.0" r="6.9"/><circle cx="968.6" cy="1109.0" r="6.9"/></g>
<g fill="#FDBF4A" fill-opacity="0.70"><circle cx="590.3" cy="958.9" r="6.9"/><circle cx="632.4" cy="945.5" r="6.9"/><circle cx="674.5" cy="948.7" r="6.9"/><circle cx="716.6" cy="969.3" r="6.9"/><circle cx="758.6" cy="1012.0" r="6.9"/><circle cx="800.6" cy="1025.8" r="6.9"/><circle cx="842.6" cy="1045.1" r="6.9"/><circle cx="884.6" cy="1043.0" r="6.9"/><circle cx="926.6" cy="1052.7" r="6.9"/></g>
<g fill="#70BF4D" fill-opacity="0.70"><circle cx="590.3" cy="1141.5" r="6.9"/><circle cx="632.4" cy="1127.4" r="6.9"/><circle cx="674.5" cy="1118.0" r="6.9"/><circle cx="716.6" cy="1123.1" r="6.9"/><circle cx="758.6" cy="1128.5" r="6.9"/><circle cx="800.6" cy="1128.5" r="6.9"/><circle cx="842.6" cy="1162.1" r="6.9"/><circle cx="884.6" cy="1165.3" r="6.9"/><circle cx="926.6" cy="1177.2" r="6.9"/></g>
<g fill="#4A89EC" fill-opacity="0.70"><circle cx="590.3" cy="998.5" r="6.9"/><circle cx="632.4" cy="967.1" r="6.9"/><circle cx="674.5" cy="960.6" r="6.9"/><circle cx="716.6" cy="969.7" r="6.9"/><circle cx="758.6" cy="976.9" r="6.9"/><circle cx="800.6" cy="1012.0" r="6.9"/><circle cx="842.6" cy="1045.1" r="6.9"/><circle cx="884.6" cy="1061.4" r="6.9"/><circle cx="926.6" cy="1063.5" r="6.9"/></g>
<g fill="#4D4D4D" fill-opacity="0.70"><circle cx="590.3" cy="1132.8" r="6.9"/><circle cx="632.4" cy="1128.5" r="6.9"/><circle cx="674.5" cy="1116.6" r="6.9"/><circle cx="716.6" cy="1106.8" r="6.9"/><circle cx="758.6" cy="1111.2" r="6.9"/><circle cx="800.6" cy="1113.3" r="6.9"/><circle cx="842.6" cy="1113.3" r="6.9"/><circle cx="884.6" cy="1091.7" r="6.9"/></g>
</g>
<rect x="572.2" y="701.2" width="414.2" height="591.2" fill="none" stroke="#2E2E2E" stroke-width="1.45"/>
<path d="M632.4,1292.4V1299.8M716.6,1292.4V1299.8M800.6,1292.4V1299.8M884.6,1292.4V1299.8M968.6,1292.4V1299.8M564.8,1265.8H572.2M564.8,1158.2H572.2M564.8,1050.5H572.2M564.8,942.9H572.2M564.8,835.2H572.2M564.8,728.0H572.2" stroke="#2E2E2E" stroke-width="2.7" fill="none"/>
<text transform="translate(632.4,1326.0) scale(1,1.06)" text-anchor="middle" class="tk">2</text>
<text transform="translate(716.6,1326.0) scale(1,1.06)" text-anchor="middle" class="tk">3</text>
<text transform="translate(800.6,1326.0) scale(1,1.06)" text-anchor="middle" class="tk">4</text>
<text transform="translate(884.6,1326.0) scale(1,1.06)" text-anchor="middle" class="tk">5</text>
<text transform="translate(968.6,1326.0) scale(1,1.06)" text-anchor="middle" class="tk">6</text>
<text transform="translate(558.7,1276.6) scale(1,1.06)" text-anchor="end" class="tk">0</text>
<text transform="translate(558.7,1169.0) scale(1,1.06)" text-anchor="end" class="tk">2</text>
<text transform="translate(558.7,1061.3) scale(1,1.06)" text-anchor="end" class="tk">4</text>
<text transform="translate(558.7,953.7) scale(1,1.06)" text-anchor="end" class="tk">6</text>
<text transform="translate(558.7,846.0) scale(1,1.06)" text-anchor="end" class="tk">8</text>
<text transform="translate(558.7,738.8) scale(1,1.06)" text-anchor="end" class="tk">10</text>
<text x="779.0" y="1362.5" text-anchor="middle" class="ti">Topographic wetness index</text>
<text x="588.1" y="742.8" class="lb">d</text>
<clipPath id="clip_e"><rect x="1044.8" y="701.2" width="422.2" height="591.2"/></clipPath>
<path d="M1044.8,1212.0H1467.0M1044.8,1104.3H1467.0M1044.8,996.8H1467.0M1044.8,889.1H1467.0M1044.8,781.6H1467.0" stroke="#F0F0F0" stroke-width="1.8" fill="none"/>
<path d="M1044.8,1265.8H1467.0M1044.8,1158.2H1467.0M1044.8,1050.5H1467.0M1044.8,942.9H1467.0M1044.8,835.2H1467.0M1044.8,728.0H1467.0M1116.2,701.2V1292.4M1203.5,701.2V1292.4M1291.0,701.2V1292.4M1378.4,701.2V1292.4M1466.0,701.2V1292.4" stroke="#EBEBEB" stroke-width="2.8" fill="none"/>
<g clip-path="url(#clip_e)">
<path d="M1133.6,1006.4 C1145.3,1004.4 1156.9,1001.7 1168.6,1000.5 C1180.3,999.3 1192.0,998.5 1203.7,998.9 C1215.4,999.3 1227.0,1001.6 1238.7,1002.7 C1250.4,1003.8 1262.3,1005.6 1273.8,1005.3 C1285.0,1005.0 1295.7,1004.8 1306.7,1001.3 C1319.1,997.3 1332.2,989.8 1343.8,981.0 C1356.4,971.4 1367.6,958.0 1378.9,944.8 C1391.0,930.6 1402.4,914.0 1413.9,898.0 C1425.7,881.5 1437.3,864.2 1449.0,847.3" stroke="#FDBF4C" stroke-width="8.2" fill="none" stroke-linejoin="round"/>
<path d="M1098.6,1135.5 C1110.3,1135.7 1121.9,1136.1 1133.6,1136.2 C1145.3,1136.3 1156.9,1136.9 1168.6,1136.2 C1180.3,1135.5 1192.0,1132.9 1203.7,1131.8 C1215.4,1130.7 1227.1,1129.7 1238.7,1129.5 C1250.1,1129.3 1262.2,1130.3 1272.6,1130.6 C1281.3,1130.8 1287.5,1131.9 1296.8,1131.0 C1309.8,1129.8 1329.4,1128.3 1343.0,1121.5 C1356.6,1114.7 1366.5,1100.7 1378.2,1090.3" stroke="#70BF4D" stroke-width="8.2" fill="none" stroke-linejoin="round"/>
<path d="M1098.6,1014.5 C1110.3,1007.9 1121.6,999.8 1133.6,994.7 C1145.0,989.8 1156.8,986.5 1168.6,984.0 C1180.2,981.6 1192.1,982.0 1203.7,980.0 C1215.4,978.0 1227.0,974.7 1238.7,972.0 C1250.4,969.3 1262.1,964.2 1273.8,964.0 C1285.5,963.8 1297.8,965.5 1308.8,970.7 C1321.3,976.6 1332.1,990.2 1343.8,1000.0" stroke="#4A89EC" stroke-width="8.2" fill="none" stroke-linejoin="round"/>
<path d="M1098.6,1092.2 C1110.3,1090.0 1121.9,1085.7 1133.6,1085.6 C1145.3,1085.5 1157.5,1087.3 1168.6,1091.5 C1180.1,1095.9 1189.8,1106.3 1201.3,1112.0 C1213.0,1117.8 1226.1,1125.2 1238.3,1125.9 C1249.8,1126.6 1261.0,1119.2 1272.6,1117.6 C1284.2,1116.0 1296.3,1115.6 1308.0,1116.3 C1319.7,1117.0 1331.3,1120.1 1343.0,1122.0" stroke="#4D4D4D" stroke-width="8.2" fill="none" stroke-linejoin="round"/>
<path d="M1063.5,1048.9 C1075.2,1047.2 1086.9,1045.4 1098.6,1043.8 C1110.3,1042.2 1121.9,1040.8 1133.6,1039.4 C1145.3,1038.1 1156.9,1037.0 1168.6,1035.7 C1180.3,1034.4 1192.0,1032.7 1203.7,1031.6 C1215.4,1030.5 1227.0,1029.6 1238.7,1029.3 C1250.4,1029.0 1262.1,1030.1 1273.8,1029.6 C1285.5,1029.1 1297.5,1029.4 1308.8,1026.0 C1320.8,1022.4 1332.4,1014.7 1343.8,1007.6 C1355.7,1000.2 1367.5,991.8 1378.9,982.5 C1390.9,972.7 1402.6,961.9 1413.9,950.0 C1426.0,937.3 1437.3,922.3 1449.0,908.4" stroke="#B01F22" stroke-width="8.2" fill="none" stroke-linejoin="round"/>
<g fill="#B22222" fill-opacity="0.70"><circle cx="1063.5" cy="1047.5" r="6.9"/><circle cx="1098.6" cy="1048.2" r="6.9"/><circle cx="1133.6" cy="1043.8" r="6.9"/><circle cx="1168.6" cy="1034.0" r="6.9"/><circle cx="1203.7" cy="1028.2" r="6.9"/><circle cx="1238.7" cy="1033.0" r="6.9"/><circle cx="1273.5" cy="1026.7" r="6.9"/><circle cx="1308.5" cy="1022.7" r="6.9"/><circle cx="1343.5" cy="1019.8" r="6.9"/><circle cx="1378.6" cy="979.9" r="6.9"/><circle cx="1413.6" cy="944.8" r="6.9"/><circle cx="1448.8" cy="909.7" r="6.9"/></g>
<g fill="#FDBF4A" fill-opacity="0.70"><circle cx="1133.6" cy="1007.1" r="6.9"/><circle cx="1168.6" cy="996.5" r="6.9"/><circle cx="1203.7" cy="998.5" r="6.9"/><circle cx="1238.7" cy="1003.0" r="6.9"/><circle cx="1273.5" cy="1005.5" r="6.9"/><circle cx="1308.5" cy="997.4" r="6.9"/><circle cx="1343.5" cy="983.5" r="6.9"/><circle cx="1378.6" cy="940.1" r="6.9"/><circle cx="1413.6" cy="898.0" r="6.9"/><circle cx="1448.8" cy="847.3" r="6.9"/></g>
<g fill="#70BF4D" fill-opacity="0.70"><circle cx="1098.6" cy="1135.5" r="6.9"/><circle cx="1133.6" cy="1132.5" r="6.9"/><circle cx="1168.6" cy="1140.6" r="6.9"/><circle cx="1203.7" cy="1131.1" r="6.9"/><circle cx="1238.7" cy="1131.1" r="6.9"/><circle cx="1273.5" cy="1131.9" r="6.9"/><circle cx="1308.5" cy="1129.3" r="6.9"/><circle cx="1343.5" cy="1121.5" r="6.9"/><circle cx="1378.6" cy="1089.0" r="6.9"/></g>
<g fill="#4A89EC" fill-opacity="0.70"><circle cx="1098.6" cy="1015.2" r="6.9"/><circle cx="1133.6" cy="991.0" r="6.9"/><circle cx="1168.6" cy="987.7" r="6.9"/><circle cx="1203.7" cy="976.7" r="6.9"/><circle cx="1238.7" cy="978.7" r="6.9"/><circle cx="1273.5" cy="962.8" r="6.9"/><circle cx="1308.5" cy="965.8" r="6.9"/><circle cx="1343.5" cy="1001.6" r="6.9"/></g>
<g fill="#4D4D4D" fill-opacity="0.70"><circle cx="1098.6" cy="1092.2" r="6.9"/><circle cx="1133.6" cy="1087.8" r="6.9"/><circle cx="1168.6" cy="1085.6" r="6.9"/><circle cx="1203.7" cy="1117.9" r="6.9"/><circle cx="1238.7" cy="1128.9" r="6.9"/><circle cx="1273.5" cy="1113.7" r="6.9"/><circle cx="1308.5" cy="1112.4" r="6.9"/><circle cx="1343.5" cy="1122.0" r="6.9"/></g>
</g>
<rect x="1044.8" y="701.2" width="422.2" height="591.2" fill="none" stroke="#2E2E2E" stroke-width="1.45"/>
<path d="M1116.2,1292.4V1299.8M1203.5,1292.4V1299.8M1291.0,1292.4V1299.8M1378.4,1292.4V1299.8M1466.0,1292.4V1299.8M1037.4,1265.8H1044.8M1037.4,1158.2H1044.8M1037.4,1050.5H1044.8M1037.4,942.9H1044.8M1037.4,835.2H1044.8M1037.4,728.0H1044.8" stroke="#2E2E2E" stroke-width="2.7" fill="none"/>
<text transform="translate(1116.2,1326.0) scale(1,1.06)" text-anchor="middle" class="tk">5500</text>
<text transform="translate(1203.5,1326.0) scale(1,1.06)" text-anchor="middle" class="tk">6000</text>
<text transform="translate(1291.0,1326.0) scale(1,1.06)" text-anchor="middle" class="tk">6500</text>
<text transform="translate(1378.4,1326.0) scale(1,1.06)" text-anchor="middle" class="tk">7000</text>
<text transform="translate(1466.0,1326.0) scale(1,1.06)" text-anchor="middle" class="tk">7500</text>
<text transform="translate(1031.3,1276.6) scale(1,1.06)" text-anchor="end" class="tk">0</text>
<text transform="translate(1031.3,1169.0) scale(1,1.06)" text-anchor="end" class="tk">2</text>
<text transform="translate(1031.3,1061.3) scale(1,1.06)" text-anchor="end" class="tk">4</text>
<text transform="translate(1031.3,953.7) scale(1,1.06)" text-anchor="end" class="tk">6</text>
<text transform="translate(1031.3,846.0) scale(1,1.06)" text-anchor="end" class="tk">8</text>
<text transform="translate(1031.3,738.8) scale(1,1.06)" text-anchor="end" class="tk">10</text>
<text x="1247.6" y="1374.0" text-anchor="middle" class="ti">Solar radiation (Wh/m²)</text>
<text x="1060.6" y="743.4" class="lb">e</text>
<text transform="translate(26.8,303.5) rotate(-90)" text-anchor="middle" class="ti">Mortality rate (%/year)</text>
<text transform="translate(26.8,994.5) rotate(-90)" text-anchor="middle" class="ti">Mortality rate (%/year)</text>
<text x="1212.0" y="75.9" class="lg">Abies</text>
<path d="M1192,101.8H1297.5" stroke="#FFB612" stroke-width="3.6"/>
<circle cx="1242.8" cy="101.8" r="12" fill="#FFB612"/>
<text x="1200.5" y="186.5" class="lg">Cedrus</text>
<path d="M1192,208.5H1297.5" stroke="#72BF4E" stroke-width="3.6"/>
<circle cx="1242.8" cy="208.5" r="12" fill="#72BF4E"/>
<text x="1210.0" y="294.4" class="lg">Pinus</text>
<path d="M1192,315.4H1297.5" stroke="#4F8BEA" stroke-width="3.6"/>
<circle cx="1242.8" cy="315.4" r="12" fill="#4F8BEA"/>
<text x="1192.8" y="401.6" class="lg">Quercus</text>
<path d="M1192,422.2H1297.5" stroke="#505050" stroke-width="3.6"/>
<circle cx="1242.8" cy="422.2" r="12" fill="#505050"/>
<text x="1226.6" y="509.3" class="lg">All</text>
<path d="M1192,528.8H1297.5" stroke="#B22222" stroke-width="3.6"/>
<circle cx="1242.8" cy="528.8" r="12" fill="#B22222"/>

<defs>
<linearGradient id="gcedrus" gradientUnits="userSpaceOnUse" x1="90" y1="0" x2="1040" y2="0"><stop offset="0" stop-color="#84A08A"/><stop offset="0.5" stop-color="#5A8A6A"/><stop offset="1" stop-color="#045C3A"/></linearGradient>
<linearGradient id="gpinus2" gradientUnits="userSpaceOnUse" x1="1101" y1="0" x2="1157" y2="0"><stop offset="0" stop-color="#45B03F"/><stop offset="0.45" stop-color="#1E9A48"/><stop offset="1" stop-color="#08602E"/></linearGradient>
<linearGradient id="gpinus" gradientUnits="userSpaceOnUse" x1="85" y1="0" x2="835" y2="0"><stop offset="0" stop-color="#45B03F"/><stop offset="0.5" stop-color="#1F9443"/><stop offset="1" stop-color="#0B6232"/></linearGradient>
</defs>
<g transform="translate(1100,40) scale(0.07584)">
<path d="M385,1050 L460,1050 L460,1282 L385,1282Z" fill="#40260E"/>
<path d="M435,85 L480,150 L500,215 L560,310 L555,390 L620,445 L560,535 L630,625 L615,680 L560,735 L620,775 L705,860 L580,850 L640,885 L695,995 L545,960 L630,1120 L600,1140 L480,1050 L385,1065 L360,1100 L240,1100 L200,1045 L220,965 L150,990 L115,940 L190,910 L290,815 L180,825 L170,770 L205,735 L205,690 L250,675 L295,610 L240,625 L240,555 L270,520 L265,465 L285,410 L280,320 L355,270 L345,240 L400,185 L400,120Z" fill="#035E30"/>
</g>
<g transform="translate(1090,148) scale(0.06932)">
<path d="M545,1120 L585,1120 L585,1325 L540,1325Z" fill="#3A2414"/>
<path d="M500,65 L570,75 L590,100 L600,180 L750,270 L720,310 L770,365 L830,385 L840,440 L815,480 L830,530 L885,545 L880,600 L860,650 L920,700 L960,770 L910,785 L980,855 L880,930 L1040,1130 L935,1125 L960,1200 L880,1210 L780,1205 L700,1170 L580,1135 L460,1140 L330,1150 L290,1200 L160,1195 L90,1130 L235,1075 L110,1030 L140,985 L260,920 L240,860 L150,800 L200,760 L275,755 L280,700 L175,690 L270,640 L300,600 L260,580 L265,545 L315,470 L300,400 L420,300 L425,210Z" fill="url(#gcedrus)"/>
</g>
<g stroke="#2E2220" stroke-width="0.9" stroke-linejoin="round"><path d="M1127.60,295.50 L1131.20,297.00 L1130.90,354.60 L1125.30,354.60 L1126.30,320.00Z" fill="#8C6428" stroke-width="0.6"/><path d="M1130.06,264.17 L1134.83,266.77 L1139.59,267.63 L1143.06,271.10 L1143.28,275.00 L1145.66,277.60 L1144.79,280.63 L1140.89,282.15 L1136.99,281.50 L1133.53,280.20 L1130.93,277.60 L1128.33,277.16 L1124.86,278.03 L1121.83,280.20 L1116.20,282.36 L1111.00,281.93 L1111.86,276.73 L1114.03,272.40 L1119.66,270.23 L1124.86,266.77Z" fill="url(#gpinus2)"/><path d="M1119.23,287.56 L1122.26,284.53 L1126.16,280.20 L1129.20,278.03 L1131.80,279.33 L1133.96,282.80 L1136.99,284.10 L1149.56,284.10 L1153.03,289.73 L1153.46,293.20 L1149.99,294.50 L1141.33,294.06 L1137.43,292.76 L1135.69,289.73 L1133.53,287.13 L1129.20,284.96 L1125.73,286.70 L1122.26,288.00Z" fill="url(#gpinus2)"/><path d="M1101.03,300.99 L1104.93,299.26 L1109.70,297.96 L1109.70,293.20 L1111.86,291.90 L1118.80,291.03 L1123.13,289.73 L1128.76,285.83 L1133.96,288.43 L1136.56,291.90 L1137.86,293.63 L1145.66,296.66 L1154.33,297.10 L1153.46,303.16 L1150.43,303.59 L1145.66,302.29 L1136.99,299.69 L1130.93,297.96 L1125.73,296.66 L1120.53,297.53 L1115.33,300.56 L1112.30,303.59 L1107.97,304.89 L1102.77,306.19Z" fill="url(#gpinus2)"/><path d="M1106.23,312.26 L1109.70,308.36 L1113.16,304.89 L1120.53,302.73 L1131.80,298.83 L1137.86,301.86 L1144.79,306.19 L1153.46,311.39 L1156.49,316.16 L1154.33,318.33 L1154.51,318.42 L1147.39,318.00 L1143.21,315.07 L1137.77,311.72 L1131.49,308.37 L1127.30,308.37 L1123.12,310.46 L1121.44,314.65 L1120.60,318.84 L1116.84,321.77 L1112.65,322.60 L1111.81,317.58 L1107.63,316.32 L1106.37,312.56Z" fill="url(#gpinus2)"/><path d="M1126.88,310.05 L1130.65,308.79 L1135.67,310.05 L1141.95,313.81 L1146.14,317.58 L1148.23,321.77 L1149.07,325.95 L1151.58,326.79 L1150.32,330.98 L1145.30,332.23 L1140.28,331.39 L1141.53,326.79 L1137.77,323.44 L1134.84,318.00 L1133.16,315.49 L1131.07,317.16 L1127.30,316.74 L1126.46,313.81Z" fill="url(#gpinus2)"/><path d="M1109.30,335.58 L1110.56,330.14 L1112.65,328.46 L1117.67,326.79 L1122.28,323.02 L1127.72,321.77 L1128.14,323.44 L1123.95,325.95 L1120.19,330.98 L1116.00,337.25 L1113.49,338.51Z" fill="url(#gpinus2)"/></g>
<g transform="translate(1080,385) scale(0.06667)">
<path d="M520,745 L580,740 L660,795 L750,750 L770,620 L810,560 L870,560 L830,640 L860,730 L980,650 L1030,640 L1045,700 L1030,760 L900,830 L860,900 L850,1040 L680,1045 L630,995 L660,960 L660,900Z" fill="#5C4420"/>
<path d="M80,600 L130,510 L200,500 L310,460 L320,380 L410,300 L570,325 L580,210 L730,125 L870,120 L1010,175 L1030,260 L1020,360 L1130,405 L1220,320 L1420,470 L1420,490 L1375,510 L1380,560 L1420,575 L1445,740 L1370,790 L1240,805 L1235,740 L1120,710 L1030,630 L930,620 L870,565 L820,560 L760,640 L750,750 L650,720 L600,715 L520,740 L470,745 L380,690 L240,800 L150,740Z" fill="#8DB424"/>
</g>

</svg>
</body></html>
